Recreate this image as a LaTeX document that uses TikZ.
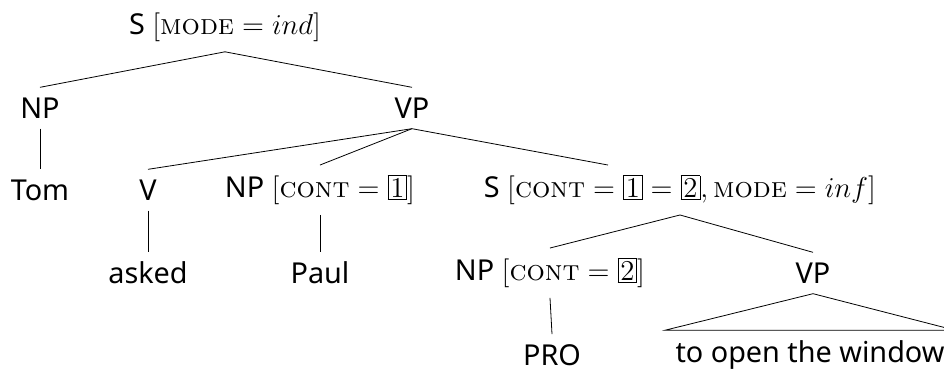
\documentclass[tikz,border=0pt]{standalone}
\usepackage{fontspec}
\newfontfamily\catfont{Noto Sans}
\usetikzlibrary{positioning,calc}
\newcommand{\featname}[1]{\mbox{\normalfont\scshape #1}}
\newcommand{\tagnum}[1]{{\setlength{\fboxsep}{1pt}\fbox{\normalfont #1}}}

\begin{document}
\begin{tikzpicture}[x=0.5pt,y=-0.5pt]

    \tikzstyle{cat} = [inner sep=5pt, font=\fontsize{14.4}{17}\selectfont\catfont]

    \useasboundingbox (0,0) rectangle (944,376);

    \node [cat] (s) at (225,27) {S $[\featname{mode} = ind]$};

    \node [cat] (np) at (40,108) {NP};
    \node [cat] (vp) at (412,108) {VP};

    \node [cat] (tom) at (40,190) {Tom};
    \node [cat] (v) at (148,190) {V};
    \node [cat] (npc) at (320,190) {NP $[\featname{cont} = \tagnum{1}]$};
    \node [cat] (sinf) at (680,190) {S $[\featname{cont} = \tagnum{1} = \tagnum{2}, \featname{mode} = inf]$};

    \node [cat] (asked) at (148,273) {asked};
    \node [cat] (paul) at (320,273) {Paul};
    \node [cat] (npp) at (550,273) {NP $[\featname{cont} = \tagnum{2}]$};
    \node [cat] (vpb) at (813,273) {VP};

    \node [cat] (pro) at (552,355) {PRO};
    \node [cat] (win) at (810,355) {to open the window};

    \draw (s.south) -- (np.north);
    \draw (s.south) -- (vp.north);
    \draw (np.south) -- (tom.north);
    \draw (vp.south) -- (v.north);
    \draw (vp.south) -- (npc.north);
    \draw (vp.south) -- ($(sinf.north)+(-72,0)$);
    \draw (v.south) -- (asked.north);
    \draw (npc.south) -- (paul.north);
    \draw (sinf.south) -- (npp.north);
    \draw (sinf.south) -- (vpb.north);
    \draw (npp.south) -- (pro.north);
    \draw (vpb.south) -- (win.north west) -- (win.north east) -- cycle;

\end{tikzpicture}
\end{document}
